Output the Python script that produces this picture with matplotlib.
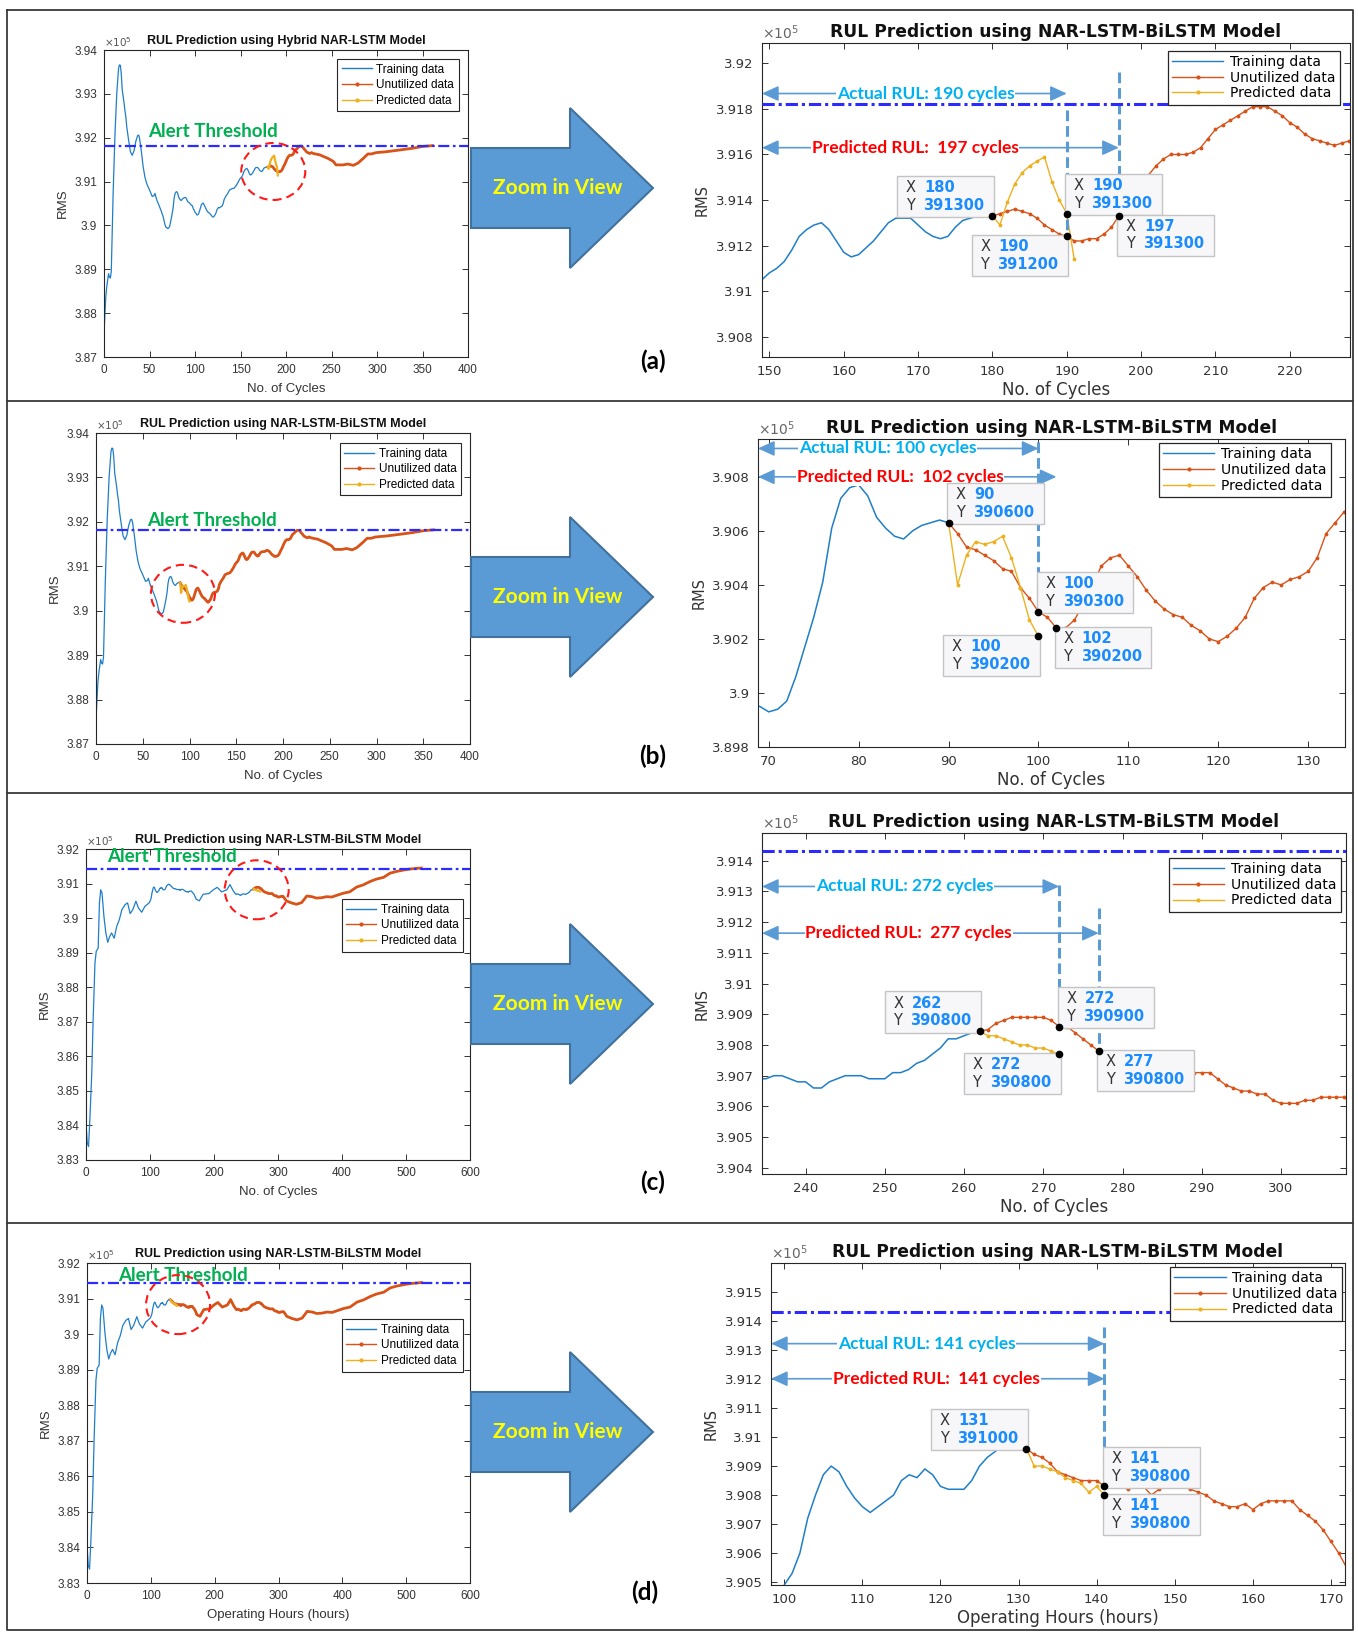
import numpy as np
import matplotlib
matplotlib.use("Agg")
import matplotlib.pyplot as plt
from matplotlib.lines import Line2D
from matplotlib.patches import Ellipse, Polygon
from matplotlib.ticker import FuncFormatter
from matplotlib.offsetbox import TextArea, HPacker, VPacker, DrawingArea, AnnotationBbox

# ---------------- RMS values (x 1e5) ----------------
# bearing set A (cases a, b): coarse start / detail windows / coarse end
a_early_cyc = [0, 2, 3, 5, 6, 7, 8, 10, 12, 14, 16, 17, 18, 19, 20, 22, 23, 24, 25, 27,
               29, 31, 33, 35, 37, 38, 39, 41, 43, 45, 47, 50, 53, 55, 56, 58, 61, 63, 65, 67, 68]
a_early_rms = [3.8755, 3.8838, 3.8860, 3.8890, 3.8882, 3.8880, 3.8895, 3.9070, 3.9205, 3.9300,
               3.9358, 3.9366, 3.9365, 3.9345, 3.9310, 3.9280, 3.9262, 3.9248, 3.9225, 3.9195,
               3.9168, 3.9160, 3.9170, 3.9192, 3.9205, 3.9206, 3.9200, 3.9170, 3.9134, 3.9110,
               3.9095, 3.9081, 3.9066, 3.9068, 3.9073, 3.9058, 3.9043, 3.9032, 3.9020, 3.9002, 3.8996]
a_win2_cyc = list(range(69, 135))
a_win2_rms = [3.8995, 3.8993, 3.8994, 3.8997, 3.9006, 3.9017, 3.9028, 3.9041, 3.9061, 3.9072,
              3.9076, 3.9077, 3.9073, 3.9065, 3.9061, 3.9058, 3.9057, 3.9060, 3.9062, 3.9063,
              3.9064, 3.9063, 3.9059, 3.9054, 3.9053, 3.9051, 3.9049, 3.9046, 3.9045, 3.9039,
              3.9035, 3.9030, 3.9028, 3.9024, 3.9024, 3.9027, 3.9033, 3.9040, 3.9047, 3.9050,
              3.9051, 3.9047, 3.9043, 3.9038, 3.9034, 3.9031, 3.9029, 3.9028, 3.9025, 3.9023,
              3.9020, 3.9019, 3.9021, 3.9024, 3.9028, 3.9035, 3.9039, 3.9041, 3.9040, 3.9042,
              3.9043, 3.9045, 3.9050, 3.9059, 3.9063, 3.9067]
a_mid_cyc = [136, 138, 141, 143, 145, 147]
a_mid_rms = [3.9073, 3.9081, 3.9084, 3.9085, 3.9090, 3.9097]
a_win1_cyc = list(range(149, 229))
a_win1_rms = [3.9105, 3.9108, 3.9110, 3.9113, 3.9118, 3.9124, 3.9127, 3.9129, 3.9130, 3.9127,
              3.9122, 3.9117, 3.9115, 3.9116, 3.9119, 3.9122, 3.9126, 3.9130, 3.9132, 3.9132,
              3.9132, 3.9129, 3.9126, 3.9124, 3.9123, 3.9124, 3.9128, 3.9131, 3.9132, 3.9133,
              3.9133, 3.9133, 3.9134, 3.9135, 3.9136, 3.9135, 3.9134, 3.9132, 3.9129, 3.9127,
              3.9125, 3.9124, 3.9122, 3.9122, 3.9123, 3.9123, 3.9125, 3.9128, 3.9133, 3.9137,
              3.9141, 3.9146, 3.9151, 3.9155, 3.9158, 3.9160, 3.9160, 3.9160, 3.9161, 3.9163,
              3.9167, 3.9171, 3.9173, 3.9175, 3.9177, 3.9179, 3.9181, 3.9181, 3.9181, 3.9179,
              3.9177, 3.9174, 3.9172, 3.9169, 3.9167, 3.9166, 3.9165, 3.9164, 3.9165, 3.9166]
a_late_cyc = [230, 237, 246, 252, 255, 263, 268, 274, 279, 285, 290, 294, 299, 310, 325, 339, 350, 361]
a_late_rms = [3.9164, 3.9161, 3.9153, 3.9146, 3.9138, 3.9138, 3.9140, 3.9137, 3.9142, 3.9153,
              3.9163, 3.9163, 3.9166, 3.9168, 3.9172, 3.9176, 3.9180, 3.9182]

# bearing set B (cases c, d)
b_early_cyc = [0, 2, 4, 6, 9, 11, 14, 16, 19, 21, 23, 25, 28, 31, 34, 37, 40, 44, 48, 52,
               56, 61, 65, 69, 73, 78, 82, 87, 92, 96]
b_early_rms = [3.8407, 3.8349, 3.8339, 3.8416, 3.8551, 3.8696, 3.8870, 3.8904, 3.8913, 3.9044,
               3.9082, 3.9073, 3.9005, 3.8957, 3.8930, 3.8947, 3.8957, 3.8942, 3.8976, 3.8995,
               3.9024, 3.9039, 3.9044, 3.9013, 3.9024, 3.9049, 3.9029, 3.9017, 3.9034, 3.9040]
b_win4_cyc = list(range(99, 173))
b_win4_rms = [3.9045, 3.9049, 3.9053, 3.9060, 3.9072, 3.9080, 3.9087, 3.9090, 3.9088, 3.9083,
              3.9079, 3.9076, 3.9074, 3.9076, 3.9078, 3.9080, 3.9085, 3.9087, 3.9086, 3.9089,
              3.9087, 3.9083, 3.9082, 3.9082, 3.9082, 3.9085, 3.9090, 3.9093, 3.9095, 3.9097,
              3.9098, 3.9098, 3.9096, 3.9094, 3.9093, 3.9091, 3.9088, 3.9087, 3.9086, 3.9085,
              3.9085, 3.9085, 3.9083, 3.9083, 3.9083, 3.9082, 3.9083, 3.9083, 3.9080, 3.9082,
              3.9083, 3.9083, 3.9083, 3.9082, 3.9081, 3.9080, 3.9078, 3.9077, 3.9076, 3.9076,
              3.9077, 3.9075, 3.9077, 3.9078, 3.9078, 3.9078, 3.9078, 3.9075, 3.9073, 3.9071,
              3.9068, 3.9064, 3.9060, 3.9055]
b_mid_cyc = [177, 183, 192, 199, 205, 212, 220, 225, 230]
b_mid_rms = [3.9050, 3.9069, 3.9071, 3.9082, 3.9089, 3.9076, 3.9082, 3.9097, 3.9079]
b_win3_cyc = list(range(234, 309))
b_win3_rms = [3.9069, 3.9069, 3.9070, 3.9070, 3.9069, 3.9068, 3.9068, 3.9066, 3.9066, 3.9068,
              3.9069, 3.9070, 3.9070, 3.9070, 3.9069, 3.9069, 3.9069, 3.9071, 3.9071, 3.9072,
              3.9074, 3.9075, 3.9077, 3.9079, 3.9082, 3.9082, 3.9083, 3.9084, 3.90845, 3.9085,
              3.9087, 3.9088, 3.9089, 3.9089, 3.9089, 3.9089, 3.9089, 3.9088, 3.9086, 3.9086,
              3.9084, 3.9082, 3.9080, 3.9078, 3.9077, 3.9076, 3.9075, 3.9074, 3.9074, 3.9073,
              3.9072, 3.9072, 3.9071, 3.9071, 3.9071, 3.9071, 3.9071, 3.9071, 3.9069, 3.9067,
              3.9066, 3.9065, 3.9065, 3.9064, 3.9064, 3.9062, 3.9061, 3.9061, 3.9061, 3.9062,
              3.9062, 3.9063, 3.9063, 3.9063, 3.9063]
b_late_cyc = [313, 321, 329, 337, 345, 353, 360, 368, 376, 384, 392, 402, 412, 423, 433, 444,
              454, 465, 475, 485, 496, 506, 517, 524]
b_late_rms = [3.9050, 3.9044, 3.9040, 3.9045, 3.9064, 3.9062, 3.9058, 3.9059, 3.9062, 3.9061,
              3.9066, 3.9072, 3.9076, 3.9090, 3.9096, 3.9106, 3.9113, 3.9118, 3.9130, 3.9135,
              3.9139, 3.9142, 3.9144, 3.9145]

# model predictions from the split point on
pred_a_cyc = list(range(180, 192))
pred_a_rms = [3.9133, 3.9129, 3.9139, 3.9147, 3.9152, 3.9155, 3.9157, 3.9159, 3.9148, 3.9140, 3.9134, 3.9114]
pred_b_cyc = list(range(90, 101))
pred_b_rms = [3.9063, 3.9040, 3.9051, 3.9056, 3.9055, 3.9056, 3.9058, 3.9050, 3.9039, 3.9027, 3.9021]
pred_c_cyc = list(range(262, 273))
pred_c_rms = [3.90845, 3.9083, 3.9083, 3.9082, 3.9081, 3.9080, 3.9080, 3.9079, 3.9079, 3.9078, 3.9077]
pred_d_cyc = list(range(131, 142))
pred_d_rms = [3.9096, 3.9090, 3.9090, 3.9089, 3.9088, 3.9086, 3.9085, 3.9084, 3.9081, 3.9083, 3.9080]

thr_a = 3.9182
thr_b = 3.9143
splits = [180, 90, 262, 131]
actual_rul = [190, 100, 272, 141]
predicted_rul = [197, 102, 277, 141]
panel_tags = ['(a)', '(b)', '(c)', '(d)']

# ---------------- figure ----------------
W, H = 1358, 1632
fig = plt.figure(figsize=(W / 100, H / 100), dpi=100)

C_TRAIN = '#1f7ec8'
C_UNUSED = '#d95319'
C_PRED = '#edb120'
C_THR = '#2b2bff'
C_ARROW = '#5b9bd5'
NARROW = ['Liberation Sans Narrow', 'Liberation Sans', 'DejaVu Sans']
WIDE = ['DejaVu Sans']
CAL = ['Lato', 'DejaVu Sans']


def px_rect(l, t, r, b):
    return [l / W, 1 - b / H, (r - l) / W, (b - t) / H]


def join(*parts):
    cyc = np.concatenate([np.asarray(c, float) for c, _ in parts])
    rms = np.concatenate([np.asarray(v, float) for _, v in parts])
    k = np.argsort(cyc, kind='stable')
    return cyc[k], rms[k]


set_a = join((a_early_cyc, a_early_rms), (a_win2_cyc, a_win2_rms), (a_mid_cyc, a_mid_rms),
             (a_win1_cyc, a_win1_rms), (a_late_cyc, a_late_rms))
set_b = join((b_early_cyc, b_early_rms), (b_win4_cyc, b_win4_rms), (b_mid_cyc, b_mid_rms),
             (b_win3_cyc, b_win3_rms), (b_late_cyc, b_late_rms))
preds = [(np.array(pred_a_cyc, float), np.array(pred_a_rms)),
         (np.array(pred_b_cyc, float), np.array(pred_b_rms)),
         (np.array(pred_c_cyc, float), np.array(pred_c_rms)),
         (np.array(pred_d_cyc, float), np.array(pred_d_rms))]
data = [set_a, set_a, set_b, set_b]
thrs = [thr_a, thr_a, thr_b, thr_b]


def lookup(cyc, rms, x):
    return float(rms[np.where(cyc == x)[0][0]])


def legend_handles():
    return [Line2D([], [], color=C_TRAIN, lw=1.0),
            Line2D([], [], color=C_UNUSED, lw=1.0, marker='.', ms=4),
            Line2D([], [], color=C_PRED, lw=1.0, marker='.', ms=4)]


def style(ax, fs, fam, pad):
    ax.tick_params(direction='in', top=True, right=True, length=4, width=0.7,
                   colors='#333333', labelsize=fs, labelfontfamily=fam, pad=pad)
    for s in ax.spines.values():
        s.set_color('#262626')
        s.set_linewidth(0.8)
    fmt = FuncFormatter(lambda v, p: f'{v:g}')
    ax.xaxis.set_major_formatter(fmt)
    ax.yaxis.set_major_formatter(fmt)


# ---- overview panels (left) ----
left_cfg = [
    dict(box=(104, 50, 468, 357), xmax=400, xstep=50, ylim=(3.87, 3.94),
         title='RUL Prediction using Hybrid NAR-LSTM Model', xlabel='No. of Cycles',
         circle=(186, 3.9123, 64, 57), alert=(48, 6.5), leg=(0.975, 0.971)),
    dict(box=(96, 433, 470, 744), xmax=400, xstep=50, ylim=(3.87, 3.94),
         title='RUL Prediction using NAR-LSTM-BiLSTM Model', xlabel='No. of Cycles',
         circle=(93, 3.9038, 64, 58), alert=(54.5, 2.5), leg=(0.976, 0.968)),
    dict(box=(86, 849, 470, 1160), xmax=600, xstep=100, ylim=(3.83, 3.92),
         title='RUL Prediction using NAR-LSTM-BiLSTM Model', xlabel='No. of Cycles',
         circle=(266.7, 3.9082, 64, 59), alert=(33, 4.5), leg=(0.982, 0.839)),
    dict(box=(87, 1263, 470, 1583), xmax=600, xstep=100, ylim=(3.83, 3.92),
         title='RUL Prediction using NAR-LSTM-BiLSTM Model', xlabel='Operating Hours (hours)',
         circle=(142.7, 3.9083, 64, 59), alert=(48, 1.5), leg=(0.982, 0.825)),
]

for i, cfg in enumerate(left_cfg):
    cyc, rms = data[i]
    pc, pr = preds[i]
    split = splits[i]
    ax = fig.add_axes(px_rect(*cfg['box']))
    ax.plot(cyc[cyc <= split], rms[cyc <= split], color=C_TRAIN, lw=0.9, zorder=2)
    ax.plot(cyc[cyc >= split], rms[cyc >= split], color=C_UNUSED, lw=2.0, zorder=2)
    ax.plot(pc, pr, color=C_PRED, lw=1.6, zorder=3)
    ax.axhline(thrs[i], color=C_THR, lw=1.6, ls=(0, (5, 1.6, 1.2, 1.6)), zorder=4)
    ax.set_xlim(0, cfg['xmax'])
    ax.set_ylim(*cfg['ylim'])
    ax.set_xticks(np.arange(0, cfg['xmax'] + 1, cfg['xstep']))
    ax.set_yticks(np.round(np.arange(cfg['ylim'][0], cfg['ylim'][1] + 1e-6, 0.01), 3))
    style(ax, 8.5, NARROW, 5)
    ax.set_title(cfg['title'], fontsize=9, fontweight='bold', family=NARROW, pad=4, color='#111111')
    ax.set_xlabel(cfg['xlabel'], fontsize=9.5, family=NARROW, color='#333333', labelpad=5)
    ax.set_ylabel('RMS', fontsize=9.5, family=NARROW, color='#333333', labelpad=4)
    ax.text(0.0, 1.003, r'$\times10^{5}$', transform=ax.transAxes, fontsize=7.5,
            color='#555555', va='bottom', ha='left')
    ax.annotate('Alert Threshold', xy=(cfg['alert'][0], thrs[i]), xytext=(0, cfg['alert'][1]),
                textcoords='offset points', va='baseline', ha='left', color='#00b050',
                fontsize=13.5, fontweight='bold', family=CAL, zorder=5)
    # dashed ring around the prediction start
    cx, cy, wpx, hpx = cfg['circle']
    l, t, r, b = cfg['box']
    fx = (cx - 0) / cfg['xmax']
    fy = (cy - cfg['ylim'][0]) / (cfg['ylim'][1] - cfg['ylim'][0])
    ax.add_patch(Ellipse((fx, fy), wpx / (r - l), hpx / (b - t), transform=ax.transAxes,
                         fill=False, ec='#ff1a1a', lw=1.5, ls=(0, (4, 2.5)), zorder=6))
    leg = ax.legend(legend_handles(), ['Training data', 'Unutilized data', 'Predicted data'],
                    loc='upper right', bbox_to_anchor=cfg['leg'], borderaxespad=0,
                    fancybox=False, edgecolor='#262626', framealpha=1, numpoints=1,
                    handlelength=2.5, handletextpad=0.4, borderpad=0.4, labelspacing=0.3,
                    prop=dict(family=NARROW, size=8.5))
    leg.get_frame().set_linewidth(0.8)
    leg.set_zorder(20)


# ---- zoomed panels (right) ----
right_cfg = [
    dict(box=(762, 43, 1350, 357), xlim=(149.0, 228.1), ylim=(3.9071, 3.9209),
         xt=(150, 220, 10), yt=(3.908, 3.920, 0.002), xlabel='No. of Cycles',
         arrow_y=(3.91868, 3.9163), text_x=(171.0, 169.6), vtop=[3.91795, 3.91963],
         tips=[('t', 180, 'ul'), ('u', 190, 'll'), ('p', 190, 'ur'), ('u', 197, 'lr')],
         leg=(0.983, 0.975)),
    dict(box=(758, 439, 1345, 747), xlim=(68.8, 134.1), ylim=(3.898, 3.9094),
         xt=(70, 130, 10), yt=(3.898, 3.908, 0.002), xlabel='No. of Cycles',
         arrow_y=(3.90905, 3.9080), text_x=(83.2, 84.6), vtop=[3.9093],
         tips=[('t', 90, 'ur'), ('u', 100, 'ur'), ('p', 100, 'll'), ('u', 102, 'lr')],
         leg=(0.976, 0.987)),
    dict(box=(762, 833, 1346, 1174), xlim=(234.5, 308.2), ylim=(3.9038, 3.9149),
         xt=(240, 300, 10), yt=(3.904, 3.914, 0.001), xlabel='No. of Cycles',
         arrow_y=(3.91316, 3.91164), text_x=(252.5, 253.0), vtop=[3.9132, 3.91245],
         tips=[('t', 262, 'ul'), ('u', 272, 'ur'), ('p', 272, 'll'), ('u', 277, 'lr')],
         leg=(0.991, 0.927)),
    dict(box=(771, 1263, 1345, 1585), xlim=(98.3, 171.8), ylim=(3.9049, 3.9160),
         xt=(100, 170, 10), yt=(3.905, 3.915, 0.001), xlabel='Operating Hours (hours)',
         arrow_y=(3.91322, 3.91201), text_x=(118.2, 119.5), vtop=[3.9138],
         tips=[('t', 131, 'ul'), ('u', 141, 'ur'), ('p', 141, 'lr')],
         leg=(0.995, 0.988)),
]


def data_tip(ax, x, y, corner):
    fs = 10.5
    ys = f'{round(y, 3) * 1e5:.0f}'

    def line(k, v):
        return HPacker(children=[TextArea(k, textprops=dict(color='#333333', fontsize=fs, family=WIDE)),
                                 TextArea(v, textprops=dict(color='#1a8cff', fontsize=fs,
                                                            fontweight='bold', family=WIDE))],
                       sep=6, pad=0, align='baseline')
    inner = VPacker(children=[line('X', f'{x:g}'), line('Y', ys)], sep=2, pad=0, align='left')
    body = HPacker(children=[DrawingArea(3, 1), inner, DrawingArea(4, 1)], sep=0, pad=0)
    dx = -2 if corner[1] == 'l' else 2
    dy = 2 if corner[0] == 'u' else -2
    align = (1 if corner[1] == 'l' else 0, 0 if corner[0] == 'u' else 1)
    ab = AnnotationBbox(body, (x, y), xybox=(dx, dy), boxcoords='offset points',
                        box_alignment=align, frameon=True, pad=0.55,
                        bboxprops=dict(boxstyle='square', fc='#f7f7fa', ec='#c4c4c4', lw=1.0),
                        zorder=8)
    ax.add_artist(ab)
    ax.plot([x], [y], 'o', color='black', ms=4.5, zorder=9)


for i, cfg in enumerate(right_cfg):
    cyc, rms = data[i]
    pc, pr = preds[i]
    split = splits[i]
    ax = fig.add_axes(px_rect(*cfg['box']))
    ax.plot(cyc[cyc <= split], rms[cyc <= split], color=C_TRAIN, lw=1.1, zorder=2)
    ax.plot(cyc[cyc >= split], rms[cyc >= split], color=C_UNUSED, lw=1.0,
            marker='.', ms=3.5, zorder=2)
    ax.plot(pc, pr, color=C_PRED, lw=1.0, marker='.', ms=3.5, zorder=3)
    ax.axhline(thrs[i], color=C_THR, lw=2.2, ls=(0, (4, 1.3, 1.0, 1.3)), zorder=6)
    ax.set_xlim(*cfg['xlim'])
    ax.set_ylim(*cfg['ylim'])
    x0, x1, xs = cfg['xt']
    ax.set_xticks(np.arange(x0, x1 + 1, xs))
    y0, y1, ys = cfg['yt']
    ax.set_yticks(np.round(np.arange(y0, y1 + ys / 2, ys), 4))
    style(ax, 9.5, WIDE, 6)
    ax.set_title('RUL Prediction using NAR-LSTM-BiLSTM Model', fontsize=12.3,
                 fontweight='bold', pad=4, color='#111111')
    ax.set_xlabel(cfg['xlabel'], fontsize=12, color='#333333', labelpad=2)
    ax.set_ylabel('RMS', fontsize=10.5, color='#333333', labelpad=4)
    ax.text(0.0, 1.004, r'$\times10^{5}$', transform=ax.transAxes, fontsize=10,
            color='#666666', va='bottom', ha='left')

    # RUL spans
    spans = [(actual_rul[i], cfg['arrow_y'][0], cfg['text_x'][0],
              f'Actual RUL: {actual_rul[i]} cycles', '#00b0f0'),
             (predicted_rul[i], cfg['arrow_y'][1], cfg['text_x'][1],
              f'Predicted RUL:  {predicted_rul[i]} cycles', '#ff0000')]
    for end, yy, tx, label, col in spans:
        ax.annotate('', xy=(end, yy), xytext=(cfg['xlim'][0], yy),
                    arrowprops=dict(arrowstyle='<|-|>,head_length=0.5,head_width=0.23',
                                    mutation_scale=20, color=C_ARROW, lw=1.2,
                                    shrinkA=0, shrinkB=0), zorder=5)
        ax.text(tx, yy, label, ha='center', va='center', color=col, fontsize=12.5,
                family=CAL, fontweight='bold', zorder=5,
                bbox=dict(fc='white', ec='none', pad=0.5))

    # dashed markers for end of life
    for xv, top in zip(sorted(set([actual_rul[i], predicted_rul[i]])), cfg['vtop']):
        ax.plot([xv, xv], [top, lookup(cyc, rms, xv)], color=C_ARROW, lw=2.2,
                ls=(0, (3.5, 1.6)), zorder=4)

    for kind, xv, corner in cfg['tips']:
        yv = lookup(pc, pr, xv) if kind == 'p' else lookup(cyc, rms, xv)
        data_tip(ax, xv, yv, corner)

    leg = ax.legend(legend_handles(), ['Training data', 'Unutilized data', 'Predicted data'],
                    loc='upper right', bbox_to_anchor=cfg['leg'], borderaxespad=0,
                    fancybox=False, edgecolor='#262626', framealpha=1, numpoints=1,
                    handlelength=3.7, handletextpad=0.5, borderpad=0.3, labelspacing=0.12,
                    prop=dict(size=10))
    leg.get_frame().set_linewidth(0.9)
    leg.set_zorder(20)


# ---- block arrows, tags and row frames ----
def fpt(x, y):
    return (x / W, 1 - y / H)


arrow_cy = [188, 597, 1004, 1432]
tag_xy = [(653, 361), (653, 756), (653, 1182), (645, 1592)]
for cy, tag, (tx, ty) in zip(arrow_cy, panel_tags, tag_xy):
    verts = [fpt(471, cy - 40), fpt(570, cy - 40), fpt(570, cy - 80), fpt(653, cy),
             fpt(570, cy + 80), fpt(570, cy + 40), fpt(471, cy + 40)]
    fig.patches.append(Polygon(verts, closed=True, fc='#5b9bd5', ec='#41719c', lw=1.5,
                               transform=fig.transFigure, figure=fig))
    fig.text(*fpt(558, cy), 'Zoom in View', color='#ffff00', fontsize=15, fontweight='bold',
             family=CAL, ha='center', va='center')
    fig.text(*fpt(tx, ty), tag, color='black', fontsize=17.5, fontweight='bold',
             family=CAL, ha='center', va='center')

for yline in [401, 793, 1223]:
    fig.add_artist(Line2D([7 / W, 1353 / W], [1 - yline / H] * 2, color='#3a3a3a', lw=1.3,
                          transform=fig.transFigure))
frame = [fpt(7, 10), fpt(1353, 10), fpt(1353, 1630), fpt(7, 1630), fpt(7, 10)]
fig.add_artist(Line2D([p[0] for p in frame], [p[1] for p in frame], color='#3a3a3a', lw=1.3,
                      transform=fig.transFigure))

fig.savefig('out.png', dpi=100)
